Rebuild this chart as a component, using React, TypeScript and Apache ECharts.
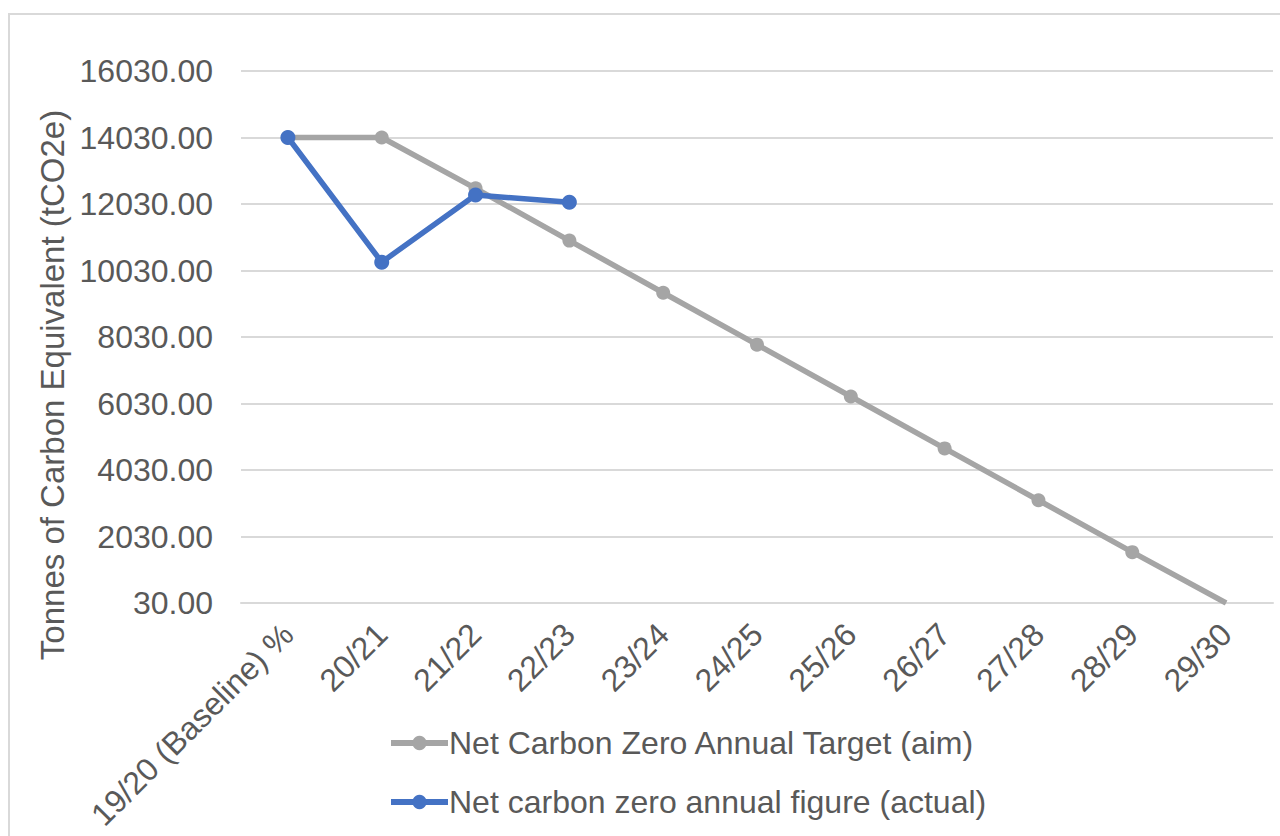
import React, { useEffect, useRef } from "react";
import * as echarts from "echarts";

const categories = [
  "19/20 (Baseline) %",
  "20/21",
  "21/22",
  "22/23",
  "23/24",
  "24/25",
  "25/26",
  "26/27",
  "27/28",
  "28/29",
  "29/30",
];

const targetValues = [14030, 14030, 12500, 10930, 9360, 7800, 6240, 4680, 3120, 1560, 30];
const actualValues = [14030, 10280, 12300, 12080];

const yTicks = [30, 2030, 4030, 6030, 8030, 10030, 12030, 14030, 16030];

const targetName = "Net Carbon Zero Annual Target (aim)";
const actualName = "Net carbon zero annual figure (actual)";
const yAxisTitle = "Tonnes of Carbon Equivalent (tCO2e)";

const FONT = "'Liberation Sans', Arial, sans-serif";
const TEXT = "#595959";

export default function App() {
  const ref = useRef<HTMLDivElement>(null);

  useEffect(() => {
    if (!ref.current) return;
    const chart = echarts.init(ref.current, undefined, { renderer: "svg" });
    const targetData = targetValues.map((v, i) =>
      i === targetValues.length - 1 ? { value: v, symbol: "none" } : v
    );
    chart.setOption({
      animation: false,
      textStyle: { fontFamily: FONT },
      graphic: [
        {
          type: "rect",
          shape: { x: 9, y: 14, width: 1290, height: 840 },
          style: { fill: "none", stroke: "#D9D9D9", lineWidth: 2 },
          silent: true,
        },
      ],
      grid: { left: 241, right: 7, top: 71, bottom: 233, containLabel: false },
      legend: {
        orient: "vertical",
        left: 383,
        top: 722,
        itemGap: 27,
        itemWidth: 57,
        itemHeight: 18,
        lineStyle: { width: 6 },
        textStyle: { fontSize: 32, color: TEXT, fontFamily: FONT, padding: [0, 0, 0, -4] },
        data: [targetName, actualName],
      },
      xAxis: {
        type: "category",
        data: categories,
        boundaryGap: true,
        axisLine: { show: true, lineStyle: { color: "#D9D9D9", width: 2 } },
        axisTick: { show: false },
        axisLabel: {
          rotate: 45,
          fontSize: 32,
          color: TEXT,
          fontFamily: FONT,
          margin: 26,
          interval: 0,
        },
      },
      yAxis: {
        type: "value",
        min: 30,
        max: 16030,
        name: yAxisTitle,
        nameLocation: "middle",
        nameGap: 168,
        nameTextStyle: {
          fontSize: 33,
          color: TEXT,
          fontFamily: FONT,
          padding: [0, 96, 0, 0],
        },
        axisLine: { show: false },
        axisTick: { show: false, customValues: yTicks },
        axisLabel: {
          customValues: yTicks,
          fontSize: 32,
          color: TEXT,
          fontFamily: FONT,
          margin: 28,
          formatter: (v: number) => v.toFixed(2),
        },
        splitLine: { show: true, lineStyle: { color: "#D9D9D9", width: 2 } },
      },
      series: [
        {
          name: targetName,
          type: "line",
          data: targetData,
          symbol: "circle",
          symbolSize: 14,
          itemStyle: { color: "#A5A5A5" },
          lineStyle: { color: "#A5A5A5", width: 5.5 },
        },
        {
          name: actualName,
          type: "line",
          data: actualValues,
          symbol: "circle",
          symbolSize: 15,
          itemStyle: { color: "#4472C4" },
          lineStyle: { color: "#4472C4", width: 5.5 },
        },
      ],
    });
    return () => chart.dispose();
  }, []);

  return (
    <div
      ref={ref}
      style={{ position: "fixed", left: 0, top: 0, width: 1280, height: 836, background: "#fff" }}
    />
  );
}
